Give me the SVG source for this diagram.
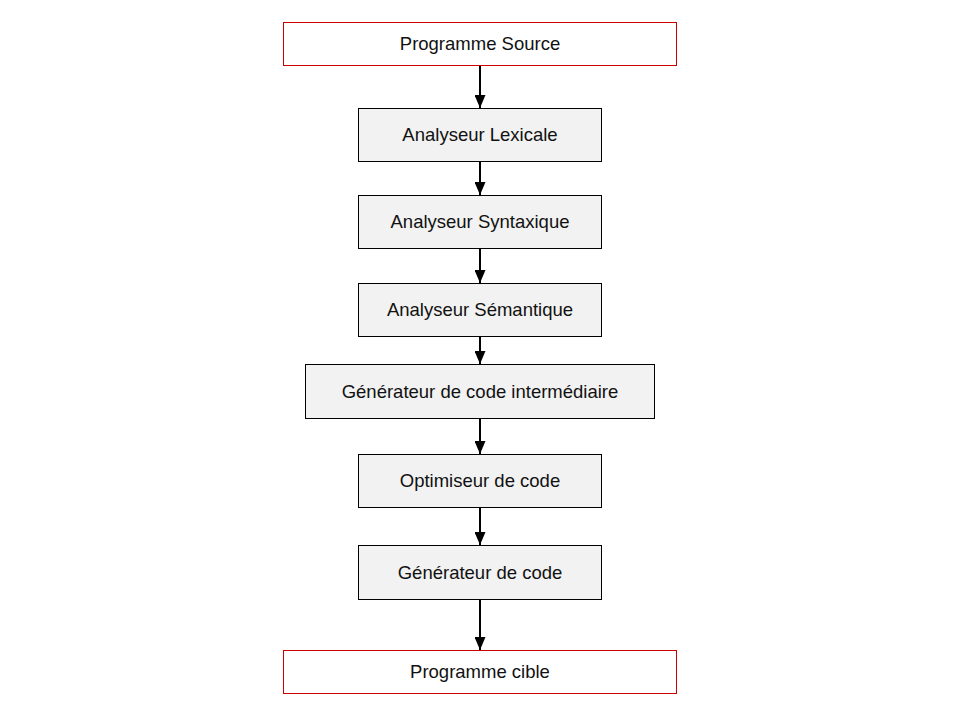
<svg xmlns="http://www.w3.org/2000/svg" width="960" height="720" viewBox="0 0 960 720">
<style>
.io{fill:#ffffff;stroke:#cc0000;stroke-width:1}
.st{fill:#f2f2f2;stroke:#000000;stroke-width:1}
text{font-family:"Liberation Sans",Arial,sans-serif;font-size:18.5px;fill:#111111;text-anchor:middle;dominant-baseline:central}
.cn{stroke:#000000;stroke-width:2;fill:none;marker-end:url(#ah)}
</style>
<defs>
<marker id="ah" markerUnits="userSpaceOnUse" markerWidth="13" markerHeight="11" refX="13" refY="5.5" orient="auto" viewBox="0 0 13 11">
<path d="M0,0 L13,5.5 L0,11 Z" fill="#000000"/>
</marker>
</defs>
<rect width="960" height="720" fill="#ffffff"/>
<g id="connectors">
<line class="cn" x1="480" y1="65.5" x2="480" y2="108"/>
<line class="cn" x1="480" y1="161.5" x2="480" y2="195"/>
<line class="cn" x1="480" y1="248.5" x2="480" y2="283"/>
<line class="cn" x1="480" y1="336.5" x2="480" y2="364"/>
<line class="cn" x1="480" y1="418.5" x2="480" y2="454"/>
<line class="cn" x1="480" y1="507.5" x2="480" y2="545"/>
<line class="cn" x1="480" y1="599.5" x2="480" y2="650"/>
</g>
<g id="n-source"><rect class="io" x="283.5" y="22.5" width="393" height="43"/><text x="480" y="43.5">Programme Source</text></g>
<g id="n-lexicale"><rect class="st" x="358.5" y="108.5" width="243" height="53"/><text x="480" y="134.5">Analyseur Lexicale</text></g>
<g id="n-syntaxique"><rect class="st" x="358.5" y="195.5" width="243" height="53"/><text x="480" y="221.5">Analyseur Syntaxique</text></g>
<g id="n-semantique"><rect class="st" x="358.5" y="283.5" width="243" height="53"/><text x="480" y="309.5">Analyseur Sémantique</text></g>
<g id="n-intermediaire"><rect class="st" x="305.5" y="364.5" width="349" height="54"/><text x="480" y="391">Générateur de code intermédiaire</text></g>
<g id="n-optimiseur"><rect class="st" x="358.5" y="454.5" width="243" height="53"/><text x="480" y="480.5">Optimiseur de code</text></g>
<g id="n-generateur"><rect class="st" x="358.5" y="545.5" width="243" height="54"/><text x="480" y="572">Générateur de code</text></g>
<g id="n-cible"><rect class="io" x="283.5" y="650.5" width="393" height="43"/><text x="480" y="671.5">Programme cible</text></g>
</svg>
